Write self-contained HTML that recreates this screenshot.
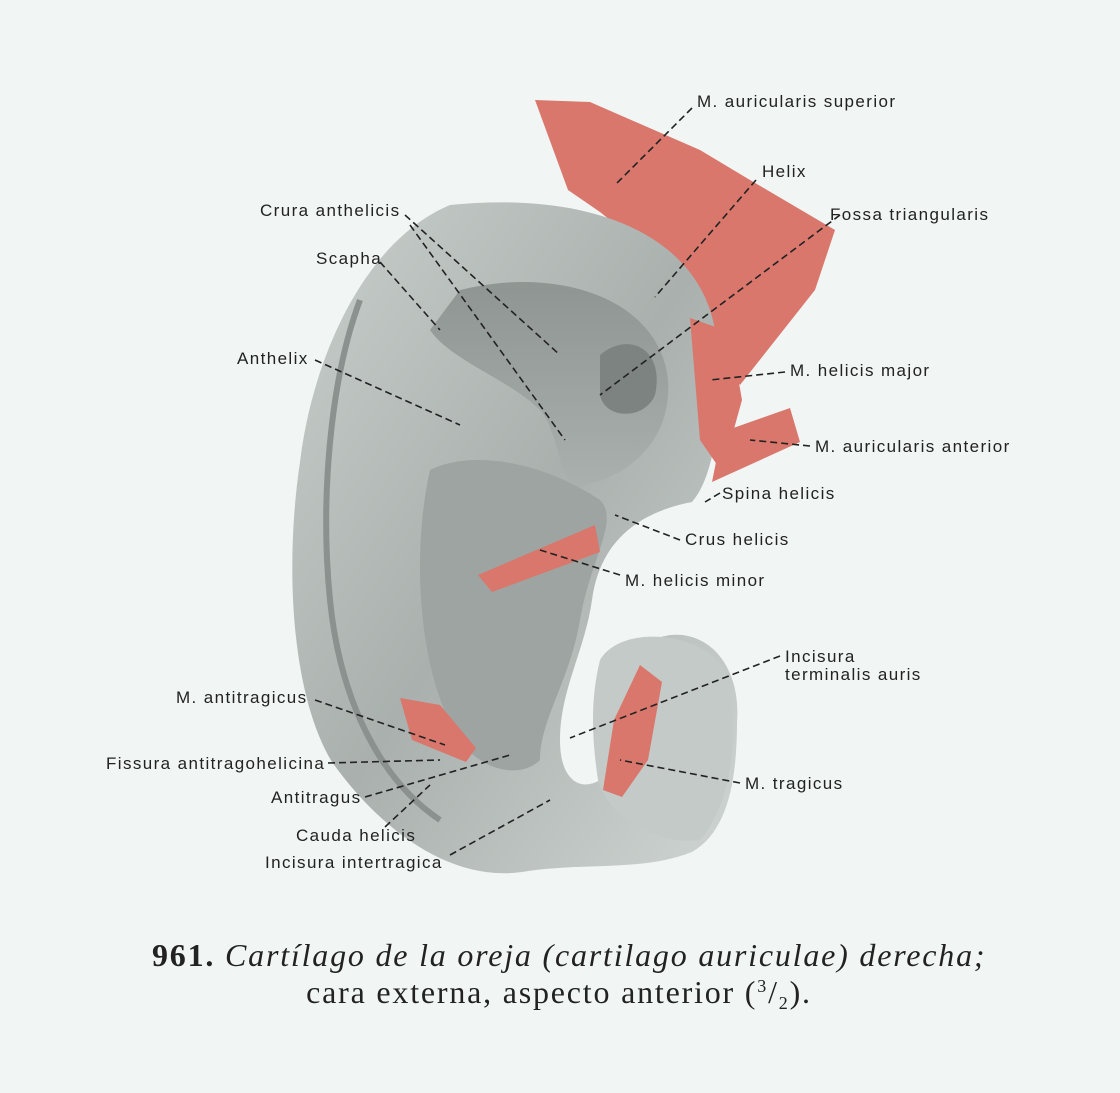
<!DOCTYPE html>
<html><head><meta charset="utf-8"><style>
html,body{margin:0;padding:0;background:#f1f5f4;}
svg{display:block}
.l{font-family:"Liberation Sans",sans-serif;font-size:17px;fill:#222;letter-spacing:1.4px}
.d{stroke:#222;stroke-width:1.6;stroke-dasharray:7 4;fill:none}
</style></head><body>
<svg width="1120" height="1093" viewBox="0 0 1120 1093" xmlns="http://www.w3.org/2000/svg">
<defs>
<linearGradient id="g1" x1="0" y1="0" x2="1" y2="1">
<stop offset="0" stop-color="#c9cfcc"/><stop offset="0.5" stop-color="#a9b0ad"/><stop offset="1" stop-color="#cfd5d2"/></linearGradient>
<linearGradient id="g2" x1="0" y1="0" x2="0" y2="1">
<stop offset="0" stop-color="#8f9592"/><stop offset="1" stop-color="#aab0ad"/></linearGradient>
</defs>
<rect width="1120" height="1093" fill="#f1f5f4"/>
<path d="M535 100 L590 102 L700 150 L750 180 L835 230 L815 290 L740 385 L700 330 L660 260 L600 212 L568 190 Z" fill="#d9776c"/>
<path d="M450 205 C600 190 700 240 715 330 C725 420 712 480 692 502 C640 512 600 540 592 600 C585 650 560 690 560 740 C560 780 580 792 600 780 C622 760 612 660 652 640 C700 620 742 660 737 722 C737 782 727 832 692 852 C642 872 582 862 522 872 C452 882 382 832 332 762 C290 692 285 562 300 462 C312 362 362 242 450 205 Z" fill="url(#g1)"/>
<path d="M360 300 C330 380 320 500 330 600 C340 700 380 780 440 820" stroke="#8a918e" stroke-width="6" fill="none"/>
<path d="M460 290 C560 265 660 300 668 380 C672 440 630 475 585 485 C560 500 560 430 540 410 C510 380 450 360 430 330 Z" fill="url(#g2)"/>
<path d="M430 470 C470 450 540 460 600 500 C620 520 590 560 580 620 C570 680 540 720 540 760 C520 780 480 770 460 740 C420 680 410 560 430 470 Z" fill="#9ea4a1"/>
<path d="M600 355 C630 330 665 350 655 395 C645 420 605 420 600 395 Z" fill="#7d8380"/>
<path d="M600 660 C620 625 700 630 725 670 C740 720 735 800 700 840 C660 845 610 820 598 780 C592 740 590 700 600 660 Z" fill="#c4cac7"/>
<path d="M690 318 L730 332 L742 400 L722 472 L700 440 Z" fill="#d9776c"/>
<path d="M722 432 L790 408 L800 442 L712 482 Z" fill="#d9776c"/>
<path d="M478 575 L595 525 L600 552 L492 592 Z" fill="#d9776c"/>
<path d="M400 698 L440 705 L476 748 L466 762 L412 740 Z" fill="#d9776c"/>
<path d="M640 665 L662 682 L648 760 L622 797 L603 790 L614 720 Z" fill="#d9776c"/>
<g class="d">
<path d="M692 108 L615 185"/><path d="M756 180 L655 297"/><path d="M840 215 L600 395"/>
<path d="M405 215 L560 355"/><path d="M410 225 L565 440"/><path d="M380 262 L440 330"/>
<path d="M315 360 L460 425"/><path d="M785 372 L710 380"/><path d="M810 446 L750 440"/>
<path d="M720 493 L705 502"/><path d="M680 540 L615 515"/><path d="M620 575 L540 550"/>
<path d="M780 656 L570 738"/><path d="M740 783 L620 760"/><path d="M315 700 L445 745"/>
<path d="M328 763 L440 760"/><path d="M365 797 L510 755"/><path d="M385 827 L430 785"/>
<path d="M450 855 L550 800"/>
</g>
<g class="l">
<text x="697" y="107">M. auricularis superior</text>
<text x="762" y="177">Helix</text>
<text x="830" y="220">Fossa triangularis</text>
<text x="260" y="216">Crura anthelicis</text>
<text x="316" y="264">Scapha</text>
<text x="237" y="364">Anthelix</text>
<text x="790" y="376">M. helicis major</text>
<text x="815" y="452">M. auricularis anterior</text>
<text x="722" y="499">Spina helicis</text>
<text x="685" y="545">Crus helicis</text>
<text x="625" y="586">M. helicis minor</text>
<text x="785" y="662">Incisura</text>
<text x="785" y="680">terminalis auris</text>
<text x="745" y="789">M. tragicus</text>
<text x="176" y="703">M. antitragicus</text>
<text x="106" y="769">Fissura antitragohelicina</text>
<text x="271" y="803">Antitragus</text>
<text x="296" y="841">Cauda helicis</text>
<text x="265" y="868">Incisura intertragica</text>
</g>
<text x="152" y="966" font-family="Liberation Serif,serif" font-size="32" letter-spacing="1.8" fill="#222"><tspan font-weight="bold">961.</tspan> <tspan font-style="italic">Cartílago de la oreja (cartilago auriculae) derecha;</tspan></text>
<text x="559" y="1003" text-anchor="middle" font-family="Liberation Serif,serif" font-size="32" letter-spacing="1.8" fill="#222">cara externa, aspecto anterior (<tspan font-size="18" dy="-11">3</tspan><tspan dy="11">/</tspan><tspan font-size="18" dy="6">2</tspan><tspan dy="-6">).</tspan></text>
</svg>
</body></html>
